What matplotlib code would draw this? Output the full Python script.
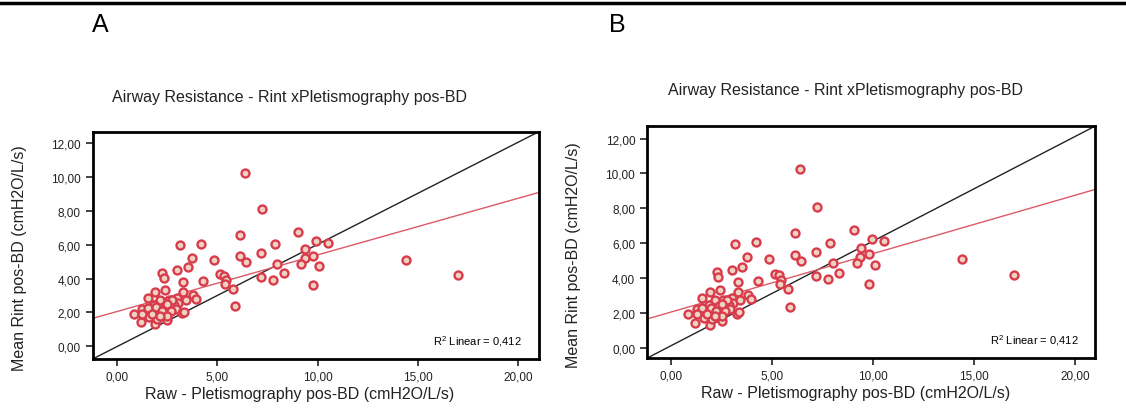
import matplotlib
matplotlib.use("Agg")
import matplotlib.pyplot as plt
from matplotlib.lines import Line2D
from matplotlib.ticker import FuncFormatter

plt.rcParams['font.family'] = ['Liberation Sans', 'DejaVu Sans']
plt.rcParams['mathtext.fontset'] = 'custom'
plt.rcParams['mathtext.rm'] = 'Liberation Sans'

# Raw (plethysmography) vs mean Rint, pos-BD
raw = [6.38, 7.21, 6.13, 9.04, 3.16, 4.21, 7.89, 9.93, 10.53, 3.77,
       4.83, 6.15, 6.45, 7.19, 9.38, 9.36, 9.79, 7.99, 9.18, 10.07,
       2.26, 2.33, 3.02, 3.53, 5.12, 5.35, 5.45, 5.38, 5.77, 5.90,
       7.19, 7.76, 8.31, 9.79, 3.32, 4.30, 14.39, 16.98, 2.42, 3.29,
       3.79, 3.94, 1.90, 1.53, 3.00, 2.58, 2.15, 3.07, 3.43, 1.85,
       0.85, 1.26, 1.53, 1.97, 2.38, 2.84, 1.19, 1.62, 1.90, 2.33,
       2.50, 2.02, 2.93, 3.27, 3.36, 2.68, 2.24, 1.26, 2.75, 1.76,
       2.50, 2.15, 2.50]
rint = [10.23, 8.09, 6.57, 6.73, 5.96, 6.04, 6.02, 6.22, 6.10, 5.19,
        5.11, 5.34, 4.99, 5.50, 5.73, 5.22, 5.36, 4.89, 4.87, 4.74,
        4.33, 4.05, 4.48, 4.66, 4.25, 4.17, 3.90, 3.66, 3.39, 2.36,
        4.11, 3.92, 4.31, 3.63, 3.80, 3.84, 5.11, 4.19, 3.31, 3.20,
        3.04, 2.79, 3.18, 2.83, 2.88, 2.73, 2.75, 2.55, 2.73, 2.46,
        1.91, 2.20, 2.26, 2.30, 2.40, 2.44, 1.42, 1.72, 1.33, 1.79,
        1.56, 1.62, 2.20, 1.95, 2.05, 2.10, 2.10, 1.91, 2.73, 1.91,
        1.81, 1.81, 2.50]

fit_intercept = 2.05
fit_slope = 0.335
r2_label = "R$^2$ Linear = 0,412"

title = "Airway Resistance - Rint xPletismography pos-BD"
xlabel = "Raw - Pletismography pos-BD (cmH2O/L/s)"
ylabel = "Mean Rint pos-BD (cmH2O/L/s)"
xticks = [0, 5, 10, 15, 20]
yticks = [0, 2, 4, 6, 8, 10, 12]

panels = [
    # letter, axes rect, ylim, letter pos, title pos
    ("A", [0.0823, 0.122, 0.396, 0.554], (-0.75, 12.67), (0.082, 0.94), (0.257, 0.763)),
    ("B", [0.5746, 0.124, 0.398, 0.566], (-0.6, 12.72), (0.541, 0.94), (0.751, 0.780)),
]

comma = FuncFormatter(lambda v, p: f"{v:.2f}".replace('.', ','))

fig = plt.figure(figsize=(11.26, 4.10), dpi=100)
fig.add_artist(Line2D([0, 1], [0.99, 0.99], color='black', lw=2.5))

for letter, rect, ylim, lpos, tpos in panels:
    ax = fig.add_axes(rect)
    xlim = (-1.2, 21.0)
    ax.set_xlim(xlim)
    ax.set_ylim(ylim)

    # reference diagonal and linear fit
    ax.plot([0, 1], [0, 1], transform=ax.transAxes, color='#222222', lw=1.0, zorder=2)
    ax.plot(xlim, [fit_intercept + fit_slope * x for x in xlim],
            color='#dc5a66', lw=1.0, zorder=2)
    ax.scatter(raw, rint, s=33, facecolor='#efd2c2', edgecolor='#d83c4c',
               linewidth=1.7, zorder=3)

    ax.set_xticks(xticks)
    ax.set_yticks(yticks)
    ax.xaxis.set_major_formatter(comma)
    ax.yaxis.set_major_formatter(comma)
    ax.tick_params(labelsize=8.5, length=5, width=1.2, colors='#222222')
    for s in ax.spines.values():
        s.set_linewidth(2)

    ax.text(0.963, 0.08, r2_label, transform=ax.transAxes, ha='right',
            va='center', fontsize=8)
    ax.text(0.465, -0.15, xlabel, transform=ax.transAxes, ha='center',
            va='center', fontsize=11.5, color='#222222')
    ax.text(-0.163, 0.45, ylabel, transform=ax.transAxes, ha='center',
            va='center', rotation=90, fontsize=11.5, color='#222222')

    fig.text(lpos[0], lpos[1], letter, fontsize=18, ha='left', va='center')
    fig.text(tpos[0], tpos[1], title, fontsize=11.5, ha='center', va='center',
             color='#222222')

fig.savefig("out.png", dpi=100)
